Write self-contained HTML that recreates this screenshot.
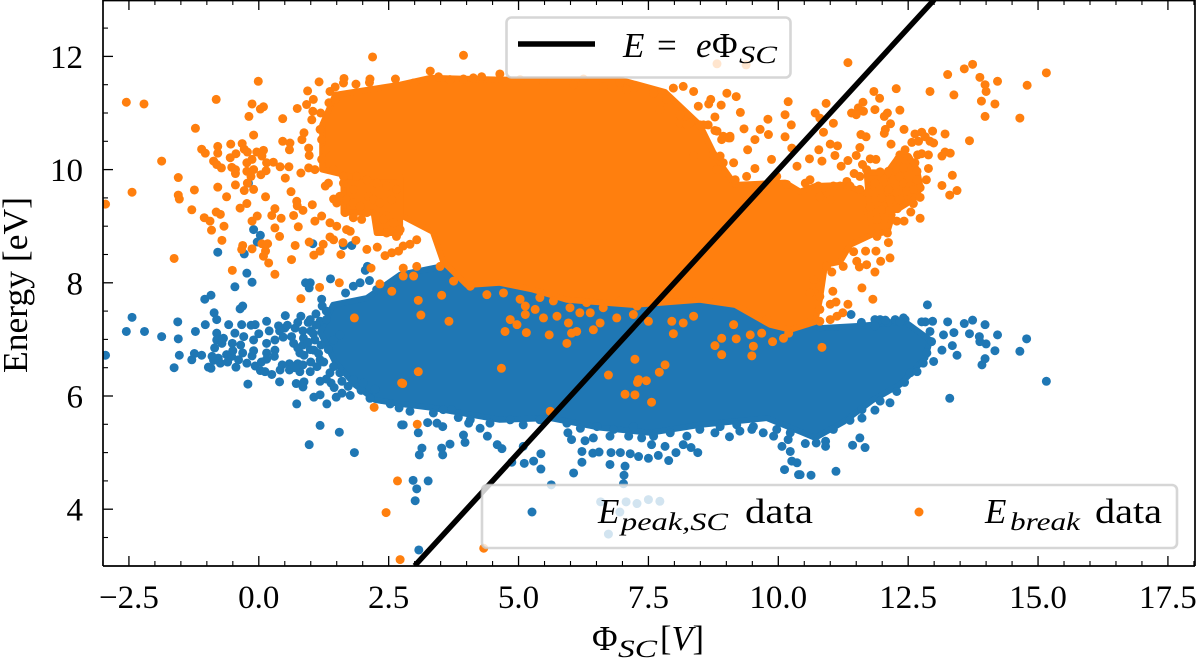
<!DOCTYPE html>
<html>
<head>
<meta charset="utf-8">
<title>Energy vs spacecraft potential</title>
<style>
html,body{margin:0;padding:0;background:#fff;width:1200px;height:665px;overflow:hidden}
svg{display:block}
text{font-family:"Liberation Serif","DejaVu Serif",serif;fill:#000}
.m{font-style:italic}
</style>
</head>
<body>
<svg id="chart" xmlns="http://www.w3.org/2000/svg" width="1200" height="665" viewBox="0 0 1200 665">
<defs><clipPath id="plot-clip"><rect x="103" y="0" width="1092" height="566"/></clipPath></defs>
<rect x="0" y="0" width="1200" height="665" fill="#fff"/>
<g id="marks" clip-path="url(#plot-clip)"></g>
<g id="axes"></g>

<g>
<rect x="506.5" y="17.5" width="284" height="60" rx="5" fill="#fff" fill-opacity="0.8" stroke="#ccc" stroke-opacity="0.8" stroke-width="2.6"/>
<line x1="518" y1="44" x2="595" y2="44" stroke="#000" stroke-width="5.5"/>
<text class="m" x="623" y="57" font-size="35">E</text>
<text x="657" y="57" font-size="35">=</text>
<text class="m" x="696" y="57" font-size="35">e</text>
<text x="712" y="57" font-size="35">Φ</text>
<text class="m" x="739" y="63" font-size="25" textLength="38" lengthAdjust="spacingAndGlyphs">SC</text>
</g>

<g>
<rect x="482" y="485" width="695" height="63" rx="5" fill="#fff" fill-opacity="0.8" stroke="#ccc" stroke-opacity="0.8" stroke-width="2.6"/>
<circle cx="532" cy="512" r="4.5" fill="#1f77b4"/>
<text class="m" x="598" y="523" font-size="35">E</text>
<text class="m" x="621" y="530" font-size="25" textLength="107" lengthAdjust="spacingAndGlyphs">peak,SC</text>
<text x="745" y="523" font-size="35" textLength="68" lengthAdjust="spacingAndGlyphs">data</text>
<circle cx="919" cy="512" r="4.5" fill="#ff7f0e"/>
<text class="m" x="985" y="523" font-size="35">E</text>
<text class="m" x="1010" y="530" font-size="25" textLength="70" lengthAdjust="spacingAndGlyphs">break</text>
<text x="1095" y="523" font-size="35" textLength="67" lengthAdjust="spacingAndGlyphs">data</text>
</g>

<g>
<text x="592" y="650" font-size="35">Φ</text>
<text class="m" x="618" y="657" font-size="25" textLength="39" lengthAdjust="spacingAndGlyphs">SC</text>
<text x="660" y="650" font-size="35" textLength="44" lengthAdjust="spacingAndGlyphs">[<tspan class="m">V</tspan>]</text>
</g>
<text transform="translate(27,373) rotate(-90)" x="0" y="0" font-size="35" textLength="176" lengthAdjust="spacingAndGlyphs">Energy [eV]</text>
</svg>

<script>
const xTicks = [-2.5, 0, 2.5, 5, 7.5, 10, 12.5, 15, 17.5];
const xTickLabels = ["\u22122.5", "0.0", "2.5", "5.0", "7.5", "10.0", "12.5", "15.0", "17.5"];
const xMinorTicks = [-3,-2,-1.5,-1,-0.5,0.5,1,1.5,2,3,3.5,4,4.5,5.5,6,6.5,7,8,8.5,9,9.5,10.5,11,11.5,12,13,13.5,14,14.5,15.5,16,16.5,17,18];
const yTicks = [4, 6, 8, 10, 12];
const yTickLabels = ["4", "6", "8", "10", "12"];
const yMinorTicks = [3.5,4.5,5,5.5,6.5,7,7.5,8.5,9,9.5,10.5,11,11.5,12.5];
const linePhi = [3, 13];
const lineEnergy = [3, 13];

/* dense cores of each cloud: outline of the saturated area, in data units */
const peakCoreOutline = [[1.18,7.13],[1.47,6.6],[1.85,6.2],[2.24,5.93],[2.72,5.86],[3.35,5.79],[4.64,5.58],[5.61,5.61],[6.57,5.44],[7.53,5.35],[8.49,5.49],[9.78,5.61],[10.42,5.37],[10.71,5.26],[11.25,5.54],[11.82,5.93],[12.34,6.2],[12.83,6.67],[12.92,6.99],[12.44,7.31],[11.57,7.24],[10.8,7.2],[9.17,7.61],[7.53,7.79],[3.68,8.32],[2.72,8.14],[2.08,7.73],[1.43,7.61]];
const breakCoreOutline = [[1.22,10.79],[1.47,11.32],[2.72,11.5],[3.3,11.62],[4.64,11.59],[6.95,11.59],[7.82,11.37],[8.49,10.79],[8.8,10.21],[9.17,9.73],[10.13,9.77],[10.42,9.61],[10.71,9.71],[11.29,9.73],[11.77,9.55],[11.8,8.85],[11.38,8.67],[11.19,8.37],[10.9,8.32],[10.8,7.7],[10.71,7.31],[10.23,7.17],[9.84,7.26],[9.17,7.61],[8.49,7.7],[7.2,7.61],[5.93,7.7],[5.28,7.88],[4.64,8.0],[4.01,7.96],[3.55,8.37],[3.35,8.9],[2.72,9.2],[2.72,9.82],[1.9,9.85],[1.22,10.0]];
const breakArmOutline = [[11.7,9.24],[11.96,9.24],[12.28,9.29],[12.6,9.47],[12.74,9.68],[12.67,10.0],[12.51,10.24],[12.34,10.26],[12.09,9.94],[11.96,9.53],[11.8,9.47]];
const breakBridgeOutline = [[11.7,9.95],[12.0,9.95],[12.2,9.2],[12.1,8.9],[11.8,8.85]];
const breakLowerLeftOutline = [[1.63,9.88],[2.72,9.88],[2.72,8.88],[2.27,8.88],[2.21,9.24],[1.63,9.24]];

const peakPoints = [
[-0.2,9.76],[-0.1,8.94],[0.03,8.84],[-0.03,8.72],[-0.79,8.54],[-0.28,8.51],[1.04,8.69],[1.63,8.66],[1.79,8.66],[-0.23,8.17],[-0.13,8.01],[-0.46,7.93],[-1.04,7.71],[-0.92,7.78],[-0.31,7.59],[-0.36,7.54],[-0.86,7.47],[-2.44,7.39],[-1.56,7.31],[-1.03,7.26],[-0.81,7.35],[-0.58,7.26],[0.51,7.42],[0.81,7.41],[0.9,8.0],[0.99,8.0],[0.97,7.91],[1.38,8.07],[2.09,8.29],[2.05,8.22],[1.21,7.71],[1.22,7.59],[1.67,7.82],[1.82,7.94],[1.95,8.0],[2.13,8.04],[2.27,7.88],[0.15,7.32],[-0.33,7.26],[-0.07,7.26],[0.38,7.24],[0.99,7.35],[1.18,7.32],
[-2.55,7.14],[-2.2,7.14],[-1.87,7.05],[-1.55,7.01],[-2.95,6.72],[-1.53,6.72],[-1.63,6.5],[-1.29,6.64],[-1.24,6.75],[-1.1,6.72],[-1.22,7.14],[-0.97,6.51],[-0.92,6.49],[-0.87,6.63],[-0.78,6.67],[-0.74,6.58],[-0.81,7.11],[-0.81,6.99],[-0.71,6.93],[-0.68,7.02],[-0.51,6.93],[-0.46,7.11],[-0.29,7.05],[-0.62,6.73],[-0.52,6.7],[-0.44,6.51],[-0.39,6.64],[-0.31,6.76],[-0.23,6.58],[-0.13,6.71],[-0.07,6.53],[0.03,6.45],[0.15,6.76],[0.15,6.65],[0.31,6.81],[0.12,6.43],[0.25,6.38],[0.41,6.46],[0.4,6.25],[-0.21,6.21],[-0.1,6.99],[0.15,6.93],[0.31,6.99],[0.47,7.04],[0.67,6.93],[0.63,7.05],[0.87,6.72],[0.59,6.57],[0.75,6.57],[0.59,6.46],[0.79,6.43],[0.99,6.43],[0.72,6.22],[0.87,6.25],[0.85,6.16],[1.12,6.52],[1.06,6.81],[1.08,6.99],[1.18,6.26],[0.73,5.86],[1.06,5.98],[1.18,6.02],[1.31,5.86],[1.49,5.98],[1.76,6.01],[1.39,6.23],[1.6,6.26],[1.72,6.17],[1.97,6.1],[1.18,5.48],[0.97,5.14],[1.55,5.36],[1.84,5.0],[2.14,5.96],[2.24,6.12],[2.53,5.86],[2.7,5.79],[2.75,5.49],[1.44,6.52],[1.56,6.41],[1.82,6.29],[2.01,6.23],[1.34,6.82],[1.44,6.99],[1.56,7.08],[1.37,6.41],[1.18,6.64],[0.99,6.82],[0.79,6.76],[0.86,7.02],
[0.5,7.2],[0.7,7.2],[0.85,7.15],[1.0,7.15],[0.55,7.25],[0.75,7.3],[0.95,7.3],[1.1,7.25],[1.05,7.1],[0.75,6.85],[0.85,6.9],[0.95,6.95],[1.2,6.9],[1.15,6.75],[1.25,6.6],[1.3,6.3],[1.45,6.15],[1.6,6.05],[1.3,7.35],[1.1,7.45],[1.3,7.5],[1.0,6.6],[0.85,6.55],[0.7,6.5],[0.45,6.55],[0.3,6.7],[-0.1,6.8],[-0.35,6.9],[0.0,7.1],[0.2,7.15],[0.4,7.15],[-0.15,7.25],[0.05,6.6],[-0.5,6.8],[-0.85,6.85],[-0.6,6.6],[-0.9,6.7],[-0.7,7.0],
[2.91,5.73],[3.36,5.7],[3.55,5.76],[3.71,5.76],[4.07,5.58],[4.45,5.52],[4.84,5.58],[5.09,5.49],[5.41,5.58],[5.93,5.52],[6.19,5.43],[6.51,5.46],[6.83,5.41],[7.21,5.46],[7.6,5.29],[7.92,5.35],[8.24,5.29],[8.49,5.41],[8.88,5.46],[9.2,5.49],[9.52,5.46],[9.97,5.41],[10.23,5.35],[11.06,5.41],[11.38,5.57],[11.61,5.76],[11.96,5.91],[12.28,6.08],[12.54,6.41],[12.86,6.76],[12.95,6.96],[11.96,7.35],[12.25,7.35],[12.44,7.35],[12.83,7.31],[11.6,7.3],[12.1,7.3],
[2.78,5.49],[3.07,5.35],[3.14,5.08],[3.09,4.96],[2.97,4.51],[3.26,4.5],[3.04,4.36],[3.01,4.15],[3.08,3.28],[3.52,5.08],[3.54,4.96],[3.68,5.15],[3.94,5.31],[3.97,5.18],[3.25,5.53],[3.43,5.52],[3.54,5.46],[3.84,5.62],[4.04,5.52],[4.26,5.43],[4.4,5.29],[4.59,5.14],[4.68,5.07],[4.87,4.83],[5.09,5.11],[5.11,4.81],[5.29,4.85],[5.43,4.98],[5.43,4.71],[5.63,4.43],[5.95,5.35],[6.02,5.23],[6.28,5.21],[6.22,5.02],[6.22,4.83],[6.06,4.64],[6.43,4.99],[6.55,5.01],[6.76,4.79],[6.78,5.0],[7.05,4.76],[7.03,4.6],[7.02,4.45],[6.96,5.0],[7.15,4.98],[7.31,4.93],[7.5,4.9],[7.69,4.95],[7.89,4.86],[8.03,5.0],[7.82,5.11],[8.17,5.14],[8.32,5.09],[8.45,5.0],[8.78,5.35],[9.06,5.28],[9.26,5.38],[9.49,5.41],[9.91,5.29],[10.07,5.11],[10.23,5.02],[10.12,4.7],[10.26,4.85],[10.39,4.61],[10.36,4.82],[6.76,5.29],[7.12,5.29],[7.37,5.26],[7.56,5.14],[6.44,5.26],[9.71,5.35],[10.19,5.23],
[6.58,4.13],[7.07,4.13],[7.28,4.1],[7.5,4.17],[7.72,4.14],[6.95,3.95],[6.73,3.56],
[15.16,6.26],[13.3,5.96],[11.11,4.67],[10.63,4.6],[10.42,4.61],[11.43,5.13],[11.57,5.26],[11.67,5.09],[10.91,5.2],[10.91,5.11],[10.73,5.17],[10.52,5.16],[11.86,5.75],[12.15,5.88],[11.61,5.61],[12.43,6.24],[12.67,6.43],[12.79,6.58],[12.99,6.61],[13.92,6.55],[13.98,6.66],[14.65,6.79],[14.17,6.8],[13.44,6.72],[13.15,6.81],[13.35,6.89],[14.78,7.01],[14.22,7.08],[14.0,6.92],[13.88,6.96],[13.87,7.05],[13.68,7.1],[13.18,7.08],[13.38,7.12],[12.92,7.14],
[12.87,7.61],[11.4,7.44],[11.86,7.35],[12.06,7.34],[12.41,7.38],[12.34,7.31],[12.76,7.31],[12.97,7.32],[13.26,7.31],[13.58,7.28],[13.74,7.34],[13.98,7.26],[11.86,7.24]
];

const breakPoints = [
[2.19,11.99],[-0.01,11.56],[-2.55,11.19],[-2.21,11.16],[-0.82,11.24],[-0.13,11.16],[0.09,11.11],[0.03,11.07],[-0.19,10.94],[0.46,10.9],[0.74,11.08],[-1.22,10.73],[-0.1,10.61],[-1.87,10.15],[-1.55,9.86],[-2.44,9.6],[-2.95,9.39],[-1.24,9.64],[-1.55,9.55],[-1.53,9.48],[-1.29,9.29],[-1.1,10.36],[-1.03,10.29],[-0.79,10.41],[-0.79,10.29],[-0.54,10.45],[-0.32,10.46],[-0.28,10.36],[-0.22,10.31],[-0.44,10.28],[-0.55,10.21],[-0.87,10.15],[-0.81,10.09],[-0.72,10.03],[-0.52,10.04],[-0.45,10.0],[-0.45,9.93],[-0.23,10.12],[-0.13,10.18],[-0.04,10.31],[0.09,10.34],[0.06,10.24],[0.15,10.12],[0.28,10.13],[0.41,10.05],[0.58,10.05],[0.14,9.98],[0.04,9.91],[-0.1,10.0],[-0.23,9.97],[-0.15,9.88],[0.51,9.85],[-0.45,9.73],[-0.79,9.69],[-0.22,9.76],[-0.28,9.63],[-0.1,9.65],[-0.62,9.52],[0.13,9.52],[0.62,9.61],[0.73,9.44],[0.74,9.36],[-0.23,9.4],[-0.36,9.32],[0.85,9.28],[1.03,9.38],[0.31,9.31],[0.25,9.19],[0.43,9.14],[-0.03,9.18],[-0.13,9.09],[0.67,9.19],[-0.82,9.25],[-0.74,9.21],[-1.05,9.15],[-0.94,9.09],[-0.91,8.93],[-0.67,9.0],[0.31,8.97],[0.4,8.82],[0.76,8.99],[-0.71,8.75],[-0.31,8.66],[-0.33,8.59],[-0.13,8.6],[0.06,8.69],[0.17,8.69],[0.7,8.66],[0.97,8.72],[1.24,8.68],[1.18,8.56],[1.06,8.49],[1.58,8.5],[2.08,8.59],[2.28,8.63],[1.62,8.71],[1.87,8.75],[0.13,8.56],[0.09,8.47],[0.19,8.35],[0.63,8.41],[0.31,8.15],[-0.51,8.22],[-1.63,8.43],[1.17,7.92],[1.55,8.0],[0.81,7.72],[1.84,7.38],[2.16,8.26],[2.33,7.98],[2.56,7.85],
[0.46,10.5],[0.6,10.47],[0.59,10.35],[0.87,10.65],[0.83,10.53],[0.96,10.38],[0.97,10.25],[0.81,9.94],[0.96,10.03],[1.08,10.0],[1.28,9.71],[1.34,9.76],[1.44,9.48],[1.5,9.41],[1.56,9.53],[1.82,9.65],[1.69,9.47],[1.66,9.24],[1.82,9.15],[1.98,9.12],[2.08,9.24],[2.27,9.18],[2.33,9.0],[2.46,8.88],[2.65,8.82],[1.08,9.09],[1.21,9.18],[1.37,9.06],[1.5,9.0],[1.69,8.94],[1.76,8.91],[1.37,8.81],[1.44,8.76],[2.43,8.48],[2.56,8.53],[2.69,8.56],[1.82,9.41],[1.95,9.35],[2.11,9.53],[2.21,9.47],[2.33,9.41],[2.56,9.47],[2.27,9.76],[2.46,9.71],[2.65,9.65],[2.08,9.82],[1.88,9.88],[1.63,9.76],[2.46,9.18],[2.59,9.06],[2.72,8.94],[2.4,9.12],
[0.94,11.39],[1.16,11.55],[1.64,11.61],[1.63,11.53],[1.87,11.51],[2.14,11.6],[2.13,11.54],[2.63,11.6],[1.37,11.38],[1.47,11.46],[1.05,11.24],[0.92,11.15],[1.35,11.18],[1.47,11.24],[1.04,11.03],[1.19,11.0],[1.02,10.88],[1.18,10.71],[1.21,10.53],[1.28,10.35],[1.21,10.18],[1.44,10.0],[1.63,9.88],
[3.94,12.02],[8.82,11.87],[9.38,11.85],[10.19,11.2],[10.13,10.97],[10.25,10.79],[10.13,10.58],[9.8,10.89],[9.81,10.62],[9.65,10.71],[9.55,10.53],[9.41,10.35],[9.87,10.18],[9.27,11.01],[9.34,10.72],[9.01,11.35],[9.19,11.29],[8.7,11.24],[8.66,11.16],[8.9,11.14],[8.78,10.93],[8.46,11.12],[9.04,10.56],[8.78,10.69],[9.14,10.12],[8.75,10.26],[9.55,10.02],[9.39,9.88],[9.17,9.82],[10.26,10.38],[10.36,10.06],[8.37,10.24],[8.91,10.53],[9.07,10.59],[8.17,11.47],[8.37,11.38],[7.98,11.44],[3.3,11.74],[4.64,11.69],[2.98,11.53],[6.95,11.54],[3.94,11.6],[6.25,11.6],[7.24,11.46],[8.56,10.79],[8.3,10.82],[8.11,10.82],[9.97,9.88],
[3.46,11.64],[3.68,11.59],[4.13,11.62],[4.29,11.64],[5.03,11.59],[5.48,11.56],[6.06,11.5],[6.63,11.46],[7.08,11.41],[7.6,11.35],[7.85,11.24],[7.72,11.06],[8.11,10.97],[8.24,10.79],[8.49,10.79],[8.65,10.79],[8.82,10.68],[8.94,10.59],[9.07,10.56],[8.88,10.24],[8.94,10.12],[8.82,10.0],[9.91,9.82],[10.16,9.74],
[3.49,8.29],[3.75,8.03],[4.07,7.94],[4.39,7.79],[4.71,7.82],[5.03,7.71],[5.41,7.74],[5.67,7.68],[5.99,7.56],[6.31,7.65],[6.63,7.56],[6.95,7.68],[7.28,7.59],[7.6,7.71],
[11.34,11.89],[13.26,11.68],[13.58,11.78],[13.74,11.86],[13.88,11.63],[13.98,11.5],[14.0,11.38],[14.22,11.56],[14.79,11.49],[15.16,11.71],[12.92,11.38],[13.38,11.32],[13.91,11.21],[14.17,11.16],[13.98,10.94],[14.65,10.91],[12.27,11.43],[11.84,11.38],[11.95,11.26],[10.92,11.17],[11.63,11.19],[11.54,11.09],[11.41,11.0],[11.5,10.97],[11.64,11.03],[11.86,11.06],[12.34,11.05],[12.1,11.0],[12.04,10.94],[10.71,11.0],[10.8,10.91],[11.06,10.82],[12.16,10.81],[12.06,10.71],[12.04,10.64],[12.42,10.71],[10.87,10.66],[11.59,10.62],[11.69,10.58],[12.63,10.63],[12.76,10.66],[12.97,10.68],[13.21,10.63],[13.68,10.51],[12.57,10.48],[12.7,10.5],[12.83,10.58],[12.99,10.47],[12.92,10.5],[12.17,10.45],[11.0,10.45],[11.14,10.42],[11.57,10.39],[10.78,10.35],[11.09,10.25],[10.6,10.19],[10.84,10.15],[11.5,10.25],[11.34,10.16],[11.21,10.06],[11.62,10.09],[11.77,10.19],[11.88,10.18],[12.44,10.35],[12.34,10.26],[12.68,10.26],[12.76,10.28],[12.89,10.26],[13.15,10.24],[13.21,10.31],[13.31,10.29],[12.31,10.18],[12.63,10.12],[12.89,10.02],[13.35,9.9],[13.15,9.72],[13.44,9.63],[13.3,9.55],[12.85,9.82],[12.73,9.68],[12.73,9.51],[12.6,9.4],[12.55,9.25],[12.73,9.14],[12.42,9.09],[11.7,10.0],[11.46,9.93],[11.57,9.88],[11.96,9.96],[12.12,9.97],[12.28,10.0],[12.41,10.03],[12.67,9.97],[11.86,9.76],[11.32,9.79],[10.61,9.82],[10.52,9.76],
[12.22,9.82],[12.41,9.76],[12.54,9.71],[12.12,9.65],[12.28,9.59],[12.47,9.62],[11.99,9.5],[12.15,9.47],[12.34,9.47],[12.6,9.65],[12.67,9.82],[12.34,9.88],[12.02,9.35],[11.99,9.29],[12.15,9.28],[12.29,9.31],[11.77,9.34],[11.74,9.59],[11.57,9.65],[11.38,9.71],[11.19,9.71],[11.06,9.71],[10.87,9.68],[10.77,9.71],[10.8,9.52],[11.0,9.47],
[11.9,9.12],[12.06,9.0],[12.1,8.88],[12.28,9.09],[11.9,8.82],[12.12,8.71],[11.88,8.56],[11.68,8.56],[12.15,8.44],[11.97,8.38],[11.45,8.55],[11.51,8.38],[11.56,8.28],[11.7,8.32],[11.86,8.19],[11.25,8.29],[11.03,8.19],[10.93,8.29],[11.61,7.91],[11.82,7.71],[11.05,7.85],[11.0,7.62],[11.11,7.66],[11.34,7.62],[11.24,7.47],[10.8,7.94],[10.8,7.76],[10.68,8.06],[11.13,7.41],[10.8,7.53],[10.61,7.82],[10.55,7.29],[10.8,7.32],[11.0,7.35],
[3.52,7.78],[3.07,7.69],[3.12,7.43],[3.66,7.32],[2.78,8.26],[3.04,8.29],[2.98,8.12],[2.78,8.12],[3.04,8.76],[2.91,8.68],[2.78,8.65],[4.84,7.35],[4.97,7.26],[5.13,7.59],[5.13,7.44],[5.32,7.53],[5.48,7.38],[5.74,7.41],[5.96,7.29],[6.18,7.47],[6.38,7.47],[6.57,7.29],[6.89,7.38],[7.21,7.44],[7.5,7.32],[7.95,7.32],[8.17,7.29],[8.37,7.41],[9.14,7.26],[9.78,7.35],
[4.74,7.14],[5.15,7.12],[5.59,7.08],[5.93,6.93],[6.02,7.11],[6.12,7.14],[6.44,7.17],[7.24,6.65],[6.73,6.37],[4.67,6.49],[3.07,6.43],[2.77,6.22],[7.82,6.55],[7.71,6.42],[7.46,6.27],[7.31,6.29],[7.29,6.24],[7.05,6.03],[7.24,6.02],[7.56,5.89],[5.61,5.73],[3.05,5.5],[7.98,7.1],[8.78,6.89],[8.91,7.02],[8.91,6.73],[9.19,7.01],[9.46,7.08],[9.52,6.88],[9.49,6.71],[9.89,6.96],[9.68,7.11],[10.1,7.02],[10.2,7.11],
[2.67,4.5],[2.45,3.94],[2.72,3.11],[2.22,5.8],[4.33,3.31],[2.75,6.23],[10.84,6.86]
];

const NS = 'http://www.w3.org/2000/svg';
function xScale(v){ return 258.8 + v * 51.95; }
function yScale(v){ return 396 + (6 - v) * 56.6; }
const marks = document.getElementById('marks');
const axes = document.getElementById('axes');

function drawCore(outline, color){
  const p = document.createElementNS(NS, 'polygon');
  
  
  p.setAttribute('points', outline.map(d => xScale(d[0]) + ',' + yScale(d[1])).join(' '));
  p.setAttribute('fill', color);
  p.setAttribute('stroke', color);
  p.setAttribute('stroke-width', '6');
  p.setAttribute('stroke-linejoin', 'round');
  marks.appendChild(p);
}
function drawPoints(points, color, name){
  for (const d of points){
    const c = document.createElementNS(NS, 'circle');
    
    
    c.setAttribute('cx', xScale(d[0]));
    c.setAttribute('cy', yScale(d[1]));
    c.setAttribute('r', 4.5);
    c.setAttribute('fill', color);
    marks.appendChild(c);
  }
}
drawCore(peakCoreOutline, '#1f77b4');
drawPoints(peakPoints, '#1f77b4', 'peak-energy-point');
drawCore(breakCoreOutline, '#ff7f0e');
drawCore(breakArmOutline, '#ff7f0e');
drawCore(breakBridgeOutline, '#ff7f0e');
drawCore(breakLowerLeftOutline, '#ff7f0e');
drawPoints(breakPoints, '#ff7f0e', 'break-energy-point');

const fit = document.createElementNS(NS, 'line');


fit.setAttribute('x1', xScale(linePhi[0]));
fit.setAttribute('y1', yScale(lineEnergy[0]));
fit.setAttribute('x2', xScale(linePhi[1]));
fit.setAttribute('y2', yScale(lineEnergy[1]));
fit.setAttribute('stroke', '#000');
fit.setAttribute('stroke-width', '5.5');
marks.appendChild(fit);

function addLine(x1, y1, x2, y2, w, name){
  const l = document.createElementNS(NS, 'line');
  
  
  l.setAttribute('x1', x1);
  l.setAttribute('y1', y1);
  l.setAttribute('x2', x2);
  l.setAttribute('y2', y2);
  l.setAttribute('stroke', '#000');
  l.setAttribute('stroke-width', w);
  axes.appendChild(l);
}
function addLabel(str, x, y, anchor, name){
  const t = document.createElementNS(NS, 'text');
  
  
  t.setAttribute('x', x);
  t.setAttribute('y', y);
  t.setAttribute('text-anchor', anchor);
  t.setAttribute('font-size', '33');
  t.textContent = str;
  axes.appendChild(t);
}
xMinorTicks.forEach(v => {
  addLine(xScale(v), 566, xScale(v), 561, 1.1, 'x-minor-tick');
  addLine(xScale(v), 0, xScale(v), 5, 1.1, 'x-minor-tick-top');
});
xTicks.forEach((v, i) => {
  addLine(xScale(v), 566, xScale(v), 556, 1.3, 'x-major-tick');
  addLine(xScale(v), 0, xScale(v), 10, 1.3, 'x-major-tick-top');
  addLabel(xTickLabels[i], xScale(v), 608, 'middle', 'x-tick-label');
});
yMinorTicks.forEach(v => {
  addLine(103, yScale(v), 108, yScale(v), 1.1, 'y-minor-tick');
});
yTicks.forEach((v, i) => {
  addLine(103, yScale(v), 113, yScale(v), 1.3, 'y-major-tick');
  addLabel(yTickLabels[i], 83, yScale(v) + 11.5, 'end', 'y-tick-label');
});
addLine(103, 0, 103, 566, 1.7, 'left-spine');
addLine(1195, 0, 1195, 566, 1.7, 'right-spine');
addLine(103, 566, 1195, 566, 1.7, 'bottom-spine');
addLine(103, 0.5, 1195, 0.5, 1.7, 'top-spine');
</script>
</body>
</html>
